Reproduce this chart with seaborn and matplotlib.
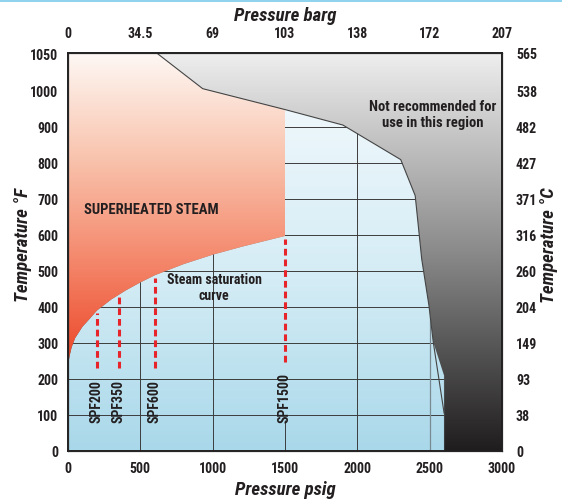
import numpy as np
import matplotlib
matplotlib.use("Agg")
import matplotlib.pyplot as plt
from matplotlib.colors import LinearSegmentedColormap
from matplotlib.patches import Polygon, Rectangle
from matplotlib import font_manager
import seaborn as sns

# steam saturation curve, psig vs degF
sat_psig = [0, 10, 25, 50, 100, 150, 200, 300, 400, 500, 600, 800, 1000, 1200, 1500]
sat_temp = [235, 262, 288, 314, 345, 367, 390, 421, 446, 468, 488, 519, 545, 567, 597]

# limit of the recommended region (edge of the grey area)
limit_psig = [613, 931, 1500, 1900, 2300, 2400, 2445, 2495, 2525, 2600, 2600]
limit_temp = [1105, 1006, 948, 905, 809, 709, 533, 404, 302, 209, 0]

# SPF models: dashed red marker lines
spf_models = ["SPF200", "SPF350", "SPF600", "SPF1500"]
spf_psig = [200, 350, 600, 1500]
spf_top = [390, 437, 488, 597]
spf_bottom = [230, 230, 230, 248]

psig_ticks = [0, 500, 1000, 1500, 2000, 2500, 3000]
barg_labels = ["0", "34.5", "69", "103", "138", "172", "207"]
degF_ticks = [0, 100, 200, 300, 400, 500, 600, 700, 800, 900, 1000, 1105]
degF_labels = ["0", "100", "200", "300", "400", "500", "600", "700", "800", "900", "1000", "1050"]
degC_labels = ["0", "38", "93", "149", "204", "260", "316", "371", "427", "482", "538", "565"]

x_max = 3000
y_max = 1105

sns.set_style("white")
installed = {f.name for f in font_manager.fontManager.ttflist}
families = [f for f in ["Roboto Condensed", "Liberation Sans Narrow", "Roboto", "Liberation Sans"]
            if f in installed] + ["DejaVu Sans"]
plt.rcParams["font.family"] = families
plt.rcParams["font.weight"] = "bold"
ink = "#231f20"

fig = plt.figure(figsize=(5.62, 5.02), dpi=100)
ax = fig.add_axes([68 / 562, 50 / 502, 434 / 562, 398 / 502])
ax.set_xlim(0, x_max)
ax.set_ylim(0, y_max)

grad = np.linspace(0, 1, 256).reshape(-1, 1)

# grey background gradient
grey_cmap = LinearSegmentedColormap.from_list("grey", ["#1f1d1e", "#8a8a8b", "#eeeeee"])
ax.imshow(grad, extent=[0, x_max, 0, y_max], origin="lower", aspect="auto",
          cmap=grey_cmap, zorder=0)

# blue (recommended) region
blue_pts = [(0, 0)] + list(zip(sat_psig, sat_temp)) + list(zip(limit_psig[2:], limit_temp[2:]))
blue_poly = Polygon(blue_pts, closed=True, transform=ax.transData)
blue_cmap = LinearSegmentedColormap.from_list("blue", ["#a9d8ea", "#d4ecf5", "#eef7fb"])
im = ax.imshow(grad, extent=[0, x_max, 0, 950], origin="lower", aspect="auto",
               cmap=blue_cmap, zorder=1)
im.set_clip_path(blue_poly)

# superheated region
red_pts = list(zip(sat_psig, sat_temp)) + list(zip(limit_psig[:3][::-1], limit_temp[:3][::-1])) + [(0, y_max)]
red_poly = Polygon(red_pts, closed=True, transform=ax.transData)
red_cmap = LinearSegmentedColormap.from_list("red", ["#ec4426", "#f4876b", "#f9c4ae", "#fef8f5"])
im2 = ax.imshow(grad, extent=[0, x_max, 235, y_max], origin="lower", aspect="auto",
                cmap=red_cmap, zorder=1)
im2.set_clip_path(red_poly)

# grid only inside the blue region
hl = ax.hlines([100, 200, 300, 400, 500, 600, 700, 800, 900], 0, x_max,
               colors="#3c3c3c", linewidth=0.7, zorder=2)
hl.set_clip_path(blue_poly)
vl = ax.vlines([500, 1000, 2000], 0, y_max, colors="#3c3c3c", linewidth=0.7, zorder=2)
vl.set_clip_path(blue_poly)
vl2 = ax.vlines([2500], 0, y_max, colors="#7a8a92", linewidth=0.9, zorder=2)
vl2.set_clip_path(blue_poly)
ax.vlines([1500], 0, 85, colors="#3c3c3c", linewidth=0.7, zorder=2)

# edge of the grey region
sns.lineplot(x=limit_psig, y=limit_temp, sort=False, color="#444444", linewidth=0.8,
             ax=ax, zorder=3)

# SPF model markers
for name, p, top, bot in zip(spf_models, spf_psig, spf_top, spf_bottom):
    ax.plot([p, p], [bot, top - 8], color="#e8242b", linewidth=2.2,
            linestyle=(0, (2.2, 1.3)), zorder=4)
    ax.text(p, bot - 30, name, rotation=90, ha="center", va="top", fontsize=10,
            color=ink, zorder=5)

ax.text(110, 672, "SUPERHEATED STEAM", fontsize=10.5, color=ink, va="center", zorder=5)
ax.text(1010, 455, "Steam saturation\ncurve", fontsize=10, color=ink,
        ha="center", va="center", linespacing=1.15, zorder=5)
ax.text(2520, 935, "Not recommended for\nuse in this region", fontsize=10.5, color=ink,
        ha="center", va="center", linespacing=1.15, zorder=5)

# axes ticks
ax.set_xticks(psig_ticks)
ax.set_xticklabels(psig_ticks)
ax.set_yticks(degF_ticks)
ax.set_yticklabels(degF_labels)
ax.tick_params(length=0, labelsize=10, pad=7, labelcolor=ink)
for s in ax.spines.values():
    s.set_linewidth(1.4)
    s.set_color(ink)

ax_top = ax.twiny()
ax_top.set_xlim(0, x_max)
ax_top.set_xticks(psig_ticks)
ax_top.set_xticklabels(barg_labels)
ax_top.tick_params(length=0, labelsize=10, pad=9, labelcolor=ink)

ax_right = ax.twinx()
ax_right.set_ylim(0, y_max)
ax_right.set_yticks(degF_ticks)
ax_right.set_yticklabels(degC_labels)
ax_right.tick_params(length=0, labelsize=10, pad=10, labelcolor=ink)

lab = dict(fontsize=13.5, fontstyle="italic", fontweight="bold", color=ink,
           ha="center", va="center")
fig.text(285 / 562, 1 - 490 / 502, "Pressure psig", **lab)
fig.text(285 / 562, 1 - 16 / 502, "Pressure barg", **lab)
fig.text(23 / 562, 1 - 245 / 502, "Temperature °F", rotation=90, **lab)
fig.text(549 / 562, 1 - 245 / 502, "Temperature °C", rotation=90, **lab)

# light blue strip along the top of the figure
fig.patches.append(Rectangle((0, 1 - 3 / 502), 1, 3 / 502, transform=fig.transFigure,
                             facecolor="#8fd3ef", edgecolor="none"))

fig.savefig("out.png", dpi=100)
